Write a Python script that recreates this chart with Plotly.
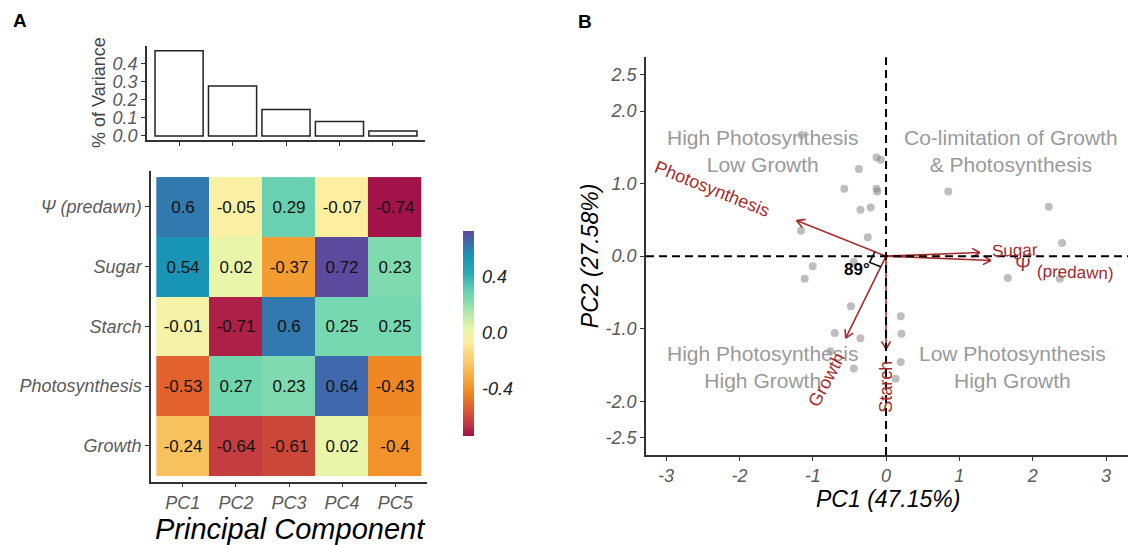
import numpy as np
import plotly.graph_objects as go

W, H = 1128, 545
FONT = "Liberation Sans, Arial, sans-serif"

# ---------------- data ----------------
pcs = ["PC1", "PC2", "PC3", "PC4", "PC5"]
variance = [0.4715, 0.2758, 0.1455, 0.0797, 0.0275]
variance_ticks = [0.0, 0.1, 0.2, 0.3, 0.4]

variables = ["Ψ (predawn)", "Sugar", "Starch", "Photosynthesis", "Growth"]
loadings = [
    [0.60, -0.05, 0.29, -0.07, -0.74],
    [0.54, 0.02, -0.37, 0.72, 0.23],
    [-0.01, -0.71, 0.60, 0.25, 0.25],
    [-0.53, 0.27, 0.23, 0.64, -0.43],
    [-0.24, -0.64, -0.61, 0.02, -0.40],
]
loading_labels = [
    ["0.6", "-0.05", "0.29", "-0.07", "-0.74"],
    ["0.54", "0.02", "-0.37", "0.72", "0.23"],
    ["-0.01", "-0.71", "0.6", "0.25", "0.25"],
    ["-0.53", "0.27", "0.23", "0.64", "-0.43"],
    ["-0.24", "-0.64", "-0.61", "0.02", "-0.4"],
]
cbar_ticks = [-0.4, 0.0, 0.4]
cbar_labels = ["-0.4", "0.0", "0.4"]

score_pc1 = [-1.15, -0.13, -0.07, -0.37, -0.57, -0.13, -0.12, -0.35, -0.21, -1.16,
             -0.25, -0.44, -1.00, -1.11, 0.85, 2.22, 2.40, 1.66, 2.37, -0.48,
             0.20, 0.21, -0.70, -0.35, -0.76, 0.20, -0.44, 0.13]
score_pc2 = [1.67, 1.36, 1.33, 1.20, 0.93, 0.93, 0.89, 0.64, 0.67, 0.35,
             0.26, -0.08, -0.14, -0.31, 0.89, 0.68, 0.18, -0.30, -0.31, -0.69,
             -0.83, -1.07, -1.06, -1.13, -1.31, -1.46, -1.55, -1.69]

arrow_names = ["Photosynthesis", "Sugar", "Ψ (predawn)", "Growth", "Starch"]
arrow_pc1 = [-1.22, 1.28, 1.43, -0.55, 0.00]
arrow_pc2 = [0.49, 0.05, -0.06, -1.13, -1.28]

x3_ticks = [-3, -2, -1, 0, 1, 2, 3]
x3_labels = ["-3", "-2", "-1", "0", "1", "2", "3"]
y3_ticks = [2.5, 2.0, 1.0, 0.0, -1.0, -2.0, -2.5]
y3_labels = ["2.5", "2.0", "1.0", "0.0", "-1.0", "-2.0", "-2.5"]

quadrant_text = ["High Photosynthesis<br>Low Growth",
                 "Co-limitation of Growth<br>& Photosynthesis",
                 "High Photosynthesis<br>High Growth",
                 "Low Photosynthesis<br>High Growth"]
quadrant_x = [-1.68, 1.71, -1.68, 1.72]
quadrant_y = [1.45, 1.45, -1.53, -1.53]
angle_label = "89°"

# ---------------- layout helpers ----------------
def xd(a, b):
    return [a / W, b / W]

def yd(top, bottom):
    return [1 - bottom / H, 1 - top / H]

def px(x):
    return x / W

def py(y):
    return 1 - y / H

AX = dict(showgrid=False, zeroline=False, showline=True, linecolor="#333333",
          linewidth=1.5, ticks="outside", ticklen=4, tickwidth=1.2,
          tickcolor="#333333")
TICKFONT = dict(family=FONT, size=18, color="#5a5a5a", style="italic")

X3R = [-3.274, 3.30]
Y3R = [-2.74, 2.74]
X3D = (646, 1128)
Y3D = (58, 460)
sx = (X3D[1] - X3D[0]) / (X3R[1] - X3R[0])
sy = (Y3D[1] - Y3D[0]) / (Y3R[1] - Y3R[0])

colorscale = [
    [0.000, "#A2134A"], [0.070, "#C63E3F"], [0.090, "#CB4839"],
    [0.145, "#E2622D"], [0.215, "#EF8A24"], [0.253, "#F39C31"],
    [0.342, "#F8C35E"], [0.460, "#FDEFA0"], [0.500, "#F4F3A8"],
    [0.520, "#E9F6A9"], [0.600, "#B3E8AB"], [0.670, "#7ADAAF"],
    [0.700, "#6DD4B1"], [0.790, "#2AAAB6"], [0.877, "#1895B5"],
    [0.918, "#3279B0"], [0.945, "#4069AD"], [1.000, "#5C4A9E"],
]

fig = go.Figure()

# ---------------- Panel A: scree bars ----------------
fig.add_trace(go.Bar(
    x=pcs, y=variance, width=0.9, xaxis="x", yaxis="y",
    marker=dict(color="white", line=dict(color="#222222", width=1.5)),
    hoverinfo="skip", showlegend=False))

# ---------------- Panel A: heatmap ----------------
zmin = min(min(r) for r in loadings)
zmax = max(max(r) for r in loadings)
fig.add_trace(go.Heatmap(
    z=loadings, x=pcs, y=variables, xaxis="x2", yaxis="y2",
    text=loading_labels, texttemplate="%{text}",
    textfont=dict(family=FONT, size=17, color="#111111"),
    colorscale=colorscale, zmin=zmin, zmax=zmax, hoverinfo="skip",
    colorbar=dict(x=px(452.7), xanchor="left", y=py(337.5), yanchor="middle",
                  len=227 / H, lenmode="fraction", thickness=11,
                  outlinewidth=0, tickvals=cbar_ticks, ticktext=cbar_labels,
                  ticks="outside", ticklen=5, tickcolor="rgba(0,0,0,0)",
                  tickfont=dict(family=FONT, size=18, color="#222222",
                                style="italic"))))

# ---------------- Panel B: biplot ----------------
fig.add_trace(go.Scatter(
    x=score_pc1, y=score_pc2, mode="markers", xaxis="x3", yaxis="y3",
    marker=dict(size=8, color="rgba(125,125,125,0.5)", line=dict(width=0)),
    hoverinfo="skip", showlegend=False))

# arrows (shaft + open head) computed from loadings
ax_x, ax_y = [], []
head_len, head_ang = 9.0, np.radians(30)
for tx, ty in zip(arrow_pc1, arrow_pc2):
    ax_x += [0, tx, None]
    ax_y += [0, ty, None]
    dxp, dyp = tx * sx, ty * sy
    n = np.hypot(dxp, dyp)
    ux, uy = dxp / n, dyp / n
    for s in (1, -1):
        c, si = np.cos(s * head_ang), np.sin(s * head_ang)
        rx, ry = ux * c - uy * si, ux * si + uy * c
        ax_x += [tx, tx - head_len * rx / sx, None]
        ax_y += [ty, ty - head_len * ry / sy, None]
fig.add_trace(go.Scatter(
    x=ax_x, y=ax_y, mode="lines", xaxis="x3", yaxis="y3",
    line=dict(color="#A52A2A", width=1.6), hoverinfo="skip", showlegend=False))

# right-angle marker between Photosynthesis and Growth arrows
i_p, i_g = arrow_names.index("Photosynthesis"), arrow_names.index("Growth")
def unit(i):
    vx, vy = arrow_pc1[i] * sx, arrow_pc2[i] * sy
    n = np.hypot(vx, vy)
    return vx / n, vy / n
r = 12.0
u1, u2 = unit(i_p), unit(i_g)
mk_x = [r * u1[0] / sx, r * (u1[0] + u2[0]) / sx, r * u2[0] / sx]
mk_y = [r * u1[1] / sy, r * (u1[1] + u2[1]) / sy, r * u2[1] / sy]
fig.add_trace(go.Scatter(
    x=mk_x, y=mk_y, mode="lines", xaxis="x3", yaxis="y3",
    line=dict(color="black", width=1.5), hoverinfo="skip", showlegend=False))

# dashed reference lines
for shp in [dict(xref="x3 domain", x0=0, x1=1, yref="y3", y0=0, y1=0),
            dict(xref="x3", x0=0, x1=0, yref="y3 domain", y0=0, y1=1)]:
    fig.add_shape(type="line", line=dict(color="black", width=2,
                                         dash="8px,5px"), **shp)

annotations = []
# quadrant labels
for t, qx, qy in zip(quadrant_text, quadrant_x, quadrant_y):
    annotations.append(dict(text=t, x=qx, y=qy, xref="x3", yref="y3",
                            showarrow=False, align="center",
                            font=dict(family=FONT, size=21, color="#9a9a9a")))
# arrow labels
RED = "#A52A2A"
arrow_label_specs = [
    ("Photosynthesis", -2.37, 0.92, 22, 18),
    ("Sugar", 1.76, 0.08, -2, 17),
    ("Ψ", 1.87, -0.12, 2, 19),
    ("(predawn)", 2.59, -0.22, 2, 17),
    ("Growth", -0.81, -1.71, -62, 18),
    ("Starch", 0.00, -1.80, -90, 18),
]
for t, lx, ly, ang, fs in arrow_label_specs:
    annotations.append(dict(text=t, x=lx, y=ly, xref="x3", yref="y3",
                            showarrow=False, textangle=ang,
                            font=dict(family=FONT, size=fs, color=RED)))
annotations.append(dict(text=angle_label, x=-0.40, y=-0.19, xref="x3",
                        yref="y3", showarrow=False,
                        font=dict(family=FONT, size=17, color="black",
                                  weight="bold")))

# titles and panel letters
def pa(text, x, y, size, color="black", angle=0, style="italic", weight="normal"):
    annotations.append(dict(text=text, x=px(x), y=py(y), xref="paper",
                            yref="paper", showarrow=False, textangle=angle,
                            xanchor="center", yanchor="middle",
                            font=dict(family=FONT, size=size, color=color,
                                      style=style, weight=weight)))

pa("A", 20, 21, 19, style="normal", weight="bold")
pa("B", 585, 22, 19, style="normal", weight="bold")
pa("% of Variance", 99, 94, 18, color="#444444", angle=-90, style="normal")
pa("Principal Component", 290, 535, 29)
pa("PC1 (47.15%)", 888, 505, 23)
pa("PC2 (27.58%)", 590, 259, 23, angle=-90)

fig.update_layout(
    width=W, height=H, margin=dict(l=0, r=0, t=0, b=0),
    paper_bgcolor="white", plot_bgcolor="white",
    font=dict(family=FONT), showlegend=False,
    annotations=annotations,
    xaxis=dict(AX, domain=xd(147, 425), type="category",
               categoryorder="array", categoryarray=pcs,
               range=[-0.6, 4.6], showticklabels=False, anchor="y"),
    yaxis=dict(AX, domain=yd(47, 141.7), range=[-0.0236, 0.495],
               tickvals=variance_ticks, tickformat=".1f", tickfont=TICKFONT,
               anchor="x"),
    xaxis2=dict(AX, domain=xd(151, 427), type="category",
                categoryorder="array", categoryarray=pcs,
                range=[-0.6, 4.6], tickfont=TICKFONT, anchor="y2"),
    yaxis2=dict(AX, domain=yd(173, 487), type="category",
                categoryorder="array", categoryarray=variables,
                range=[4.6, -0.6], tickfont=TICKFONT, anchor="x2"),
    xaxis3=dict(AX, domain=xd(*X3D), range=X3R, tickvals=x3_ticks,
                ticktext=x3_labels, tickfont=TICKFONT, anchor="y3"),
    yaxis3=dict(AX, domain=yd(*Y3D), range=Y3R, tickvals=y3_ticks,
                ticktext=y3_labels, tickfont=TICKFONT, anchor="x3"),
)

fig.write_html("out.html")
